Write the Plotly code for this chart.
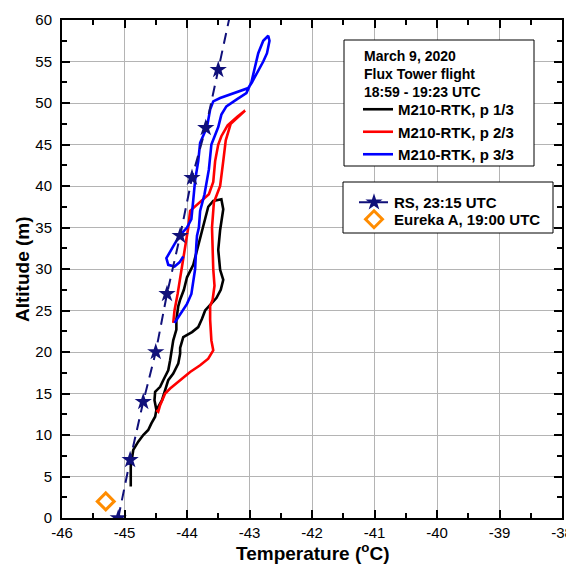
import plotly.graph_objects as go

# ---------------- data ----------------
black_temp = [-44.90, -44.90, -44.90, -44.86, -44.78, -44.70, -44.62, -44.57, -44.51, -44.49,
              -44.52, -44.51, -44.43, -44.38, -44.30, -44.27, -44.25, -44.22, -44.17, -44.17,
              -44.14, -44.11, -44.05, -44.00, -43.90, -43.85, -43.78, -43.72, -43.66, -43.58,
              -43.45, -43.42, -43.45, -43.47, -43.50, -43.47, -43.42, -43.46, -43.53, -43.63,
              -43.71, -43.76, -43.82, -43.92, -44.06, -44.11, -44.11, -44.14, -44.22, -44.30,
              -44.35, -44.40, -44.49]
black_alt = [3.8, 5.0, 6.2, 8.2, 9.2, 10.0, 10.6, 11.4, 12.2, 13.0,
             14.2, 15.2, 15.8, 16.6, 17.8, 19.0, 20.2, 21.4, 22.7, 23.9,
             25.5, 26.3, 27.5, 29.0, 30.5, 32.0, 34.0, 36.0, 37.5, 38.2,
             38.4, 37.2, 35.5, 34.7, 32.3, 29.9, 28.7, 27.5, 26.5, 25.7,
             25.0, 24.0, 23.0, 22.4, 21.8, 20.5, 19.8, 18.6, 17.4, 16.6,
             15.4, 14.2, 13.0]

red_temp = [-44.49, -44.46, -44.43, -44.35, -44.27, -44.11, -43.95, -43.79, -43.66, -43.58,
            -43.61, -43.63, -43.63, -43.59, -43.56, -43.58, -43.60, -43.57, -43.47, -43.42,
            -43.38, -43.30, -43.18, -43.07, -43.20, -43.35, -43.45, -43.50, -43.55, -43.58,
            -43.65, -43.80, -43.95, -43.98, -44.02, -44.06, -44.10, -44.15, -44.20, -44.22]
red_alt = [13.0, 12.8, 13.6, 15.0, 15.6, 16.6, 17.6, 18.4, 19.2, 20.2,
           21.4, 23.9, 25.5, 26.3, 28.0, 30.0, 35.0, 38.0, 40.0, 43.0,
           45.5, 47.5, 48.4, 49.1, 48.3, 47.3, 46.0, 45.0, 43.0, 40.5,
           39.0, 38.0, 37.0, 35.0, 33.0, 31.0, 29.0, 27.0, 25.0, 23.5]

blue_temp = [-44.20, -44.10, -44.00, -43.93, -43.87, -43.85, -43.84, -43.81, -43.79, -43.72,
             -43.68, -43.65, -43.61, -43.50, -43.45, -43.37, -43.21, -43.05, -42.97, -42.92,
             -42.86, -42.78, -42.70, -42.68, -42.72, -42.78, -42.88, -42.96, -43.02, -43.26,
             -43.47, -43.58, -43.63, -43.68, -43.79, -43.82, -43.87, -43.90, -43.93, -44.00,
             -44.12, -44.20, -44.25, -44.33, -44.30, -44.20, -44.12, -44.06]
blue_alt = [23.5, 24.6, 25.8, 27.0, 30.0, 33.0, 34.0, 35.0, 37.0, 39.0,
            40.5, 42.0, 45.0, 47.1, 48.6, 49.6, 50.4, 51.2, 52.5, 54.0,
            56.0, 57.5, 58.1, 57.5, 56.0, 55.0, 53.5, 52.5, 51.8, 51.2,
            50.6, 50.2, 49.2, 47.1, 45.2, 43.0, 40.7, 38.3, 36.0, 35.0,
            34.0, 33.0, 32.3, 31.3, 30.5, 30.3, 30.8, 31.5]

rs_temp = [-45.10, -44.91, -44.70, -44.50, -44.32, -44.11, -43.92, -43.70, -43.50, -43.30]
rs_alt = [0, 7, 14, 20, 27, 34, 41, 47, 54, 61]

eureka_temp = [-45.30]
eureka_alt = [2.0]

x_ticks = [-46, -45, -44, -43, -42, -41, -40, -39, -38]
y_ticks = [0, 5, 10, 15, 20, 25, 30, 35, 40, 45, 50, 55, 60]

legend_title_lines = ["March 9, 2020", "Flux Tower flight", "18:59 - 19:23 UTC"]
x_title = "Temperature (<sup>o</sup>C)"
y_title = "Altitude (m)"

FONT = "Liberation Sans, Arial, sans-serif"

# layout geometry (pixels); the page body adds an 8 px offset
OFF = 8
W, H = 566, 561
ML, MR, MT, MB = 54, 12, 12, 51
PW, PH = W - ML - MR, H - MT - MB


def px_x(p):
    # p: screen pixel -> paper fraction
    return (p - OFF - ML) / PW


def px_y(p):
    return (H - MB - (p - OFF)) / PH


fig = go.Figure()
fig.add_trace(go.Scatter(x=black_temp, y=black_alt, mode="lines",
                         line=dict(color="black", width=2.6),
                         name="<b>M210-RTK, p 1/3</b>", legend="legend"))
fig.add_trace(go.Scatter(x=red_temp, y=red_alt, mode="lines",
                         line=dict(color="#ff0000", width=2.6),
                         name="<b>M210-RTK, p 2/3</b>", legend="legend"))
fig.add_trace(go.Scatter(x=blue_temp, y=blue_alt, mode="lines",
                         line=dict(color="#0000ff", width=2.6),
                         name="<b>M210-RTK, p 3/3</b>", legend="legend"))
fig.add_trace(go.Scatter(x=rs_temp, y=rs_alt, mode="lines+markers",
                         line=dict(color="#10107a", width=2, dash="11px,7px"),
                         marker=dict(symbol="star", size=13, color="#10107a"),
                         name="<b>RS, 23:15 UTC</b>", legend="legend2"))
fig.add_trace(go.Scatter(x=eureka_temp, y=eureka_alt, mode="markers",
                         marker=dict(symbol="diamond-open", size=13, color="#ff8c00",
                                     line=dict(width=3, color="#ff8c00")),
                         name="<b>Eureka A, 19:00 UTC</b>", legend="legend3"))

axis_common = dict(
    showline=True, linecolor="black", linewidth=2, mirror="allticks",
    ticks="inside", ticklen=8, tickwidth=1.5, tickcolor="black",
    showgrid=True, gridcolor="#b4b4b4", gridwidth=1,
    zeroline=False, automargin=False,
    tickfont=dict(family=FONT, size=15, color="black"),
)

fig.update_xaxes(range=[-46, -38], tickmode="array", tickvals=x_ticks,
                 ticktext=[str(v) for v in x_ticks],
                 minor=dict(dtick=0.5, ticks="inside", ticklen=5, tickwidth=1.5,
                            tickcolor="black", showgrid=False),
                 ticklabelstandoff=0,
                 **axis_common)
fig.update_yaxes(range=[0, 60], tickmode="array", tickvals=y_ticks,
                 ticktext=[str(v) for v in y_ticks],
                 minor=dict(dtick=2.5, ticks="inside", ticklen=5, tickwidth=1.5,
                            tickcolor="black", showgrid=False),
                 ticklabelstandoff=5,
                 **axis_common)

# axis titles
fig.add_annotation(text="<b>" + x_title + "</b>", xref="paper", yref="paper",
                   x=0.5, y=px_y(552), xanchor="center", yanchor="middle",
                   showarrow=False, font=dict(family=FONT, size=19, color="black"))
fig.add_annotation(text="<b>" + y_title + "</b>", xref="paper", yref="paper",
                   x=px_x(22), y=0.5, xanchor="center", yanchor="middle", textangle=-90,
                   showarrow=False, font=dict(family=FONT, size=19, color="black"))

# legend frames
fig.add_shape(type="rect", xref="paper", yref="paper",
              x0=px_x(344), x1=px_x(534), y0=px_y(166), y1=px_y(40),
              line=dict(color="black", width=1), fillcolor="white", layer="above")
fig.add_shape(type="rect", xref="paper", yref="paper",
              x0=px_x(343), x1=px_x(553), y0=px_y(233), y1=px_y(182),
              line=dict(color="black", width=1), fillcolor="white", layer="above")

# legend heading (flight description)
fig.add_annotation(text="<br>".join("<b>" + s + "</b>" for s in legend_title_lines),
                   xref="paper", yref="paper", x=px_x(362), y=px_y(74),
                   xanchor="left", yanchor="middle", align="left", showarrow=False,
                   font=dict(family=FONT, size=14, color="black"))

leg_common = dict(xanchor="left", yanchor="top", bgcolor="rgba(0,0,0,0)", borderwidth=0,
                  font=dict(family=FONT, size=15, color="black"),
                  tracegroupgap=0, itemwidth=30)

fig.update_layout(
    width=W, height=H,
    margin=dict(l=ML, r=MR, t=MT, b=MB),
    plot_bgcolor="white", paper_bgcolor="white",
    font=dict(family=FONT, color="black"),
    legend=dict(x=px_x(358), y=px_y(93), **leg_common),
    legend2=dict(x=px_x(354), y=px_y(186), **leg_common),
    legend3=dict(x=px_x(354), y=px_y(203), **leg_common),
    showlegend=True,
)

fig.write_html("out.html")
